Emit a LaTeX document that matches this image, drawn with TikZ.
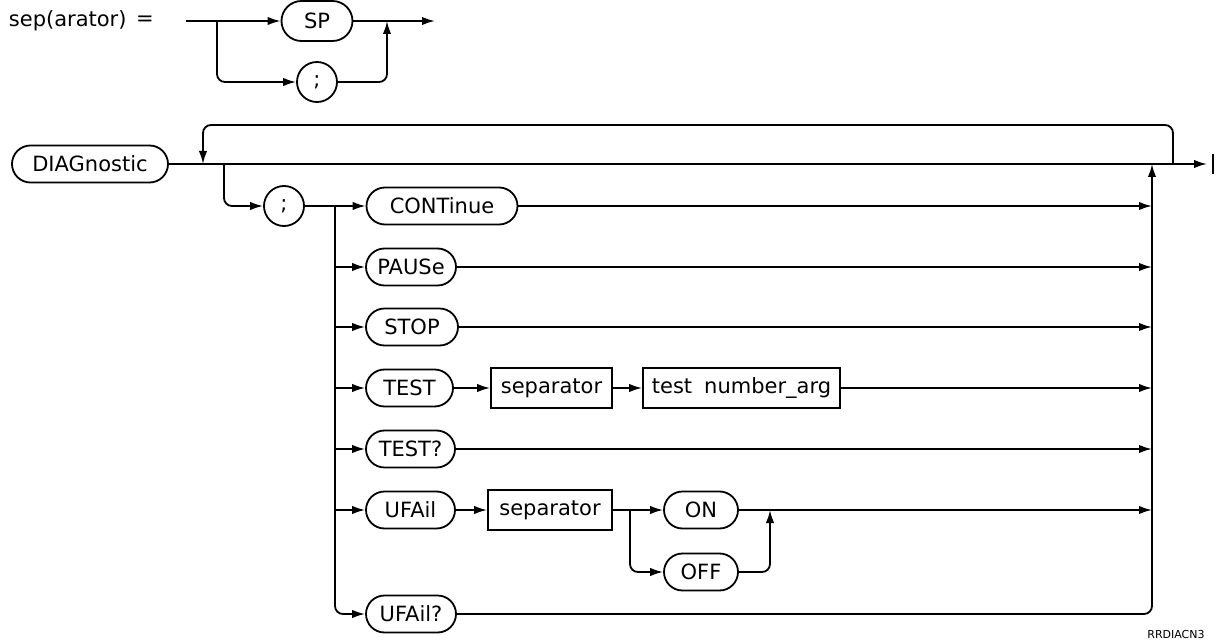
\documentclass[tikz,border=0pt]{standalone}
\usepackage{fontspec}
\setmainfont{DejaVu Sans}
\usetikzlibrary{arrows.meta,shapes.misc}
\begin{document}
\begin{tikzpicture}[x=0.5pt,y=-0.5pt,
  line width=0.9pt,
  lbl/.style={font=\fontsize{10.5}{12}\selectfont},
  term/.style={draw, rounded rectangle, minimum height=18.5pt, inner sep=2pt, lbl},
  semi/.style={draw, rounded rectangle, minimum height=20pt, minimum width=22pt, inner sep=1pt, lbl},
  nonterm/.style={draw, rectangle, minimum height=20pt, inner sep=2pt, lbl},
  arr/.style={-{Latex[length=6.5pt,width=4.2pt]}},
  rc/.style={rounded corners=4pt}]
\useasboundingbox (0,0) rectangle (1216,642);

% ---- sep(arator) definition
\node[lbl, anchor=west, inner sep=0pt] (septxt) at (8,21) {sep(arator)};
\node[lbl, inner sep=0pt] (eq) at (145,21) {=};
\node[term, minimum width=39.5pt, minimum height=20pt] (sp) at (317,21) {SP};
\node[semi] (sc1) at (317,82) {;};
\coordinate (s0) at (186,21);
\coordinate (sb) at (217,21);
\coordinate (sj) at (387,21);
\coordinate (se) at (435,21);
\draw[arr] (s0) -- (sp.west);
\draw[rc,arr] (sb) |- (sc1.west);
\draw[arr] (sp.east) -- (se);
\draw[rc,arr] (sc1.east) -| (sj);

% ---- main nodes
\node[term, minimum width=82pt] (diag) at (90,164) {DIAGnostic};
\node[semi] (sc2) at (284,206) {;};
\node[term, minimum width=79.5pt] (cont) at (442,206) {CONTinue};
\node[term, minimum width=49pt] (pause) at (411,267) {PAUSe};
\node[term, minimum width=50pt] (stop) at (412,327) {STOP};
\node[term, minimum width=47.5pt] (test) at (409.5,388) {TEST};
\node[nonterm, minimum width=60.5pt] (sepa) at (551.5,388) {separator};
\node[nonterm, minimum width=98.5pt] (tna) at (741.5,388) {test\hspace{6pt}number\_arg};
\node[term, minimum width=48.5pt] (testq) at (410.5,449) {TEST?};
\node[term, minimum width=48.5pt] (ufail) at (410.5,510) {UFAil};
\node[nonterm, minimum width=62pt] (sepb) at (550,510) {separator};
\node[term, minimum width=41pt] (on) at (701,510) {ON};
\node[term, minimum width=41pt] (off) at (701,572) {OFF};
\node[term, minimum width=49pt] (ufq) at (411,614) {UFAil?};

\node[font=\fontsize{5.5}{6}\selectfont, inner sep=0pt] (code) at (1176,634) {RRDIACN3};

% ---- coordinates
\coordinate (mend) at (1207,164);
\coordinate (bar1) at (1213,154);
\coordinate (bar2) at (1213,174);
\coordinate (lr) at (1173,164);
\coordinate (ll) at (203,164);
\coordinate (lt) at (0,125);
\coordinate (bd) at (224,164);
\coordinate (vl) at (335,206);
\coordinate (cl) at (1152,164);
\coordinate (ob) at (630,510);
\coordinate (oj) at (770,510);

% ---- main line and loop
\draw[arr] (diag.east) -- (mend);
\draw (bar1) -- (bar2);
\draw[rc,arr] (lr) |- (lt -| ll) -- (ll);
\draw[rc,arr] (bd) |- (sc2.west);

% ---- branch fan
\draw[arr] (sc2.east) -- (cont.west);
\draw[rc,arr] (vl) |- (ufq.west);
\draw[arr] (vl |- pause) -- (pause.west);
\draw[arr] (vl |- stop) -- (stop.west);
\draw[arr] (vl |- test) -- (test.west);
\draw[arr] (vl |- testq) -- (testq.west);
\draw[arr] (vl |- ufail) -- (ufail.west);

% ---- TEST row
\draw[arr] (test.east) -- (sepa.west);
\draw[arr] (sepa.east) -- (tna.west);

% ---- UFAil row
\draw[arr] (ufail.east) -- (sepb.west);
\draw[arr] (sepb.east) -- (on.west);
\draw[rc,arr] (ob) |- (off.west);
\draw[rc,arr] (off.east) -| (oj);

% ---- collector
\draw[arr] (cont.east) -- (cont.east -| cl);
\draw[arr] (pause.east) -- (pause.east -| cl);
\draw[arr] (stop.east) -- (stop.east -| cl);
\draw[arr] (tna.east) -- (tna.east -| cl);
\draw[arr] (testq.east) -- (testq.east -| cl);
\draw[arr] (on.east) -- (on.east -| cl);
\draw[rc,arr] (ufq.east) -| (cl);
\end{tikzpicture}
\end{document}
